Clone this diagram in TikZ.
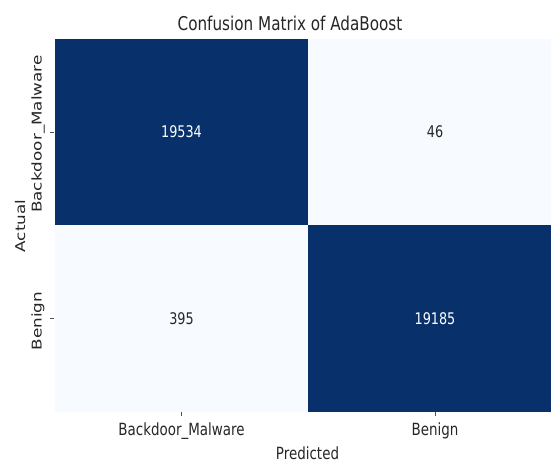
\documentclass[tikz,border=0pt]{standalone}
\usepackage{fontspec}
\setmainfont{DejaVu Sans}
\newfontfamily\narrowfont[FakeStretch=0.8]{DejaVu Sans}
\usetikzlibrary{positioning}

\definecolor{cmdark}{HTML}{08306B}
\definecolor{cmlight}{HTML}{F7FBFF}
\definecolor{txtgray}{HTML}{262626}

\begin{document}
\begin{tikzpicture}[
  x=1pt, y=-1pt,
  cell/.style={rectangle, inner sep=0pt, minimum width=253.5pt, minimum height=186.5pt,
               font=\narrowfont\fontsize{16}{19}\selectfont},
  hicell/.style={cell, fill=cmdark, text=white},
  locell/.style={cell, fill=cmlight, text=txtgray},
  ticklbl/.style={font=\narrowfont\fontsize{16.8}{20}\selectfont, text=txtgray, inner sep=0pt},
  vticklbl/.style={font=\fontsize{16.8}{20}\selectfont, text=txtgray, inner sep=0pt, xscale=0.8, rotate=90},
  tick/.style={line width=0.8pt, txtgray!80}
]
  \clip (0,0) rectangle (551,465);
  \useasboundingbox (0,0) rectangle (551,465);

  % title
  \node[font=\narrowfont\fontsize{19}{23}\selectfont, text=txtgray] (title) at (290,23) {Confusion Matrix of AdaBoost};

  % matrix cells
  \node[hicell] (tp) at (181.5,132) {19534};
  \node[locell] (fn) at (435,132) {46};
  \node[locell] (fp) at (181.5,318.5) {395};
  \node[hicell] (tn) at (435,318.5) {19185};

  % y ticks
  \coordinate (ya) at (54,132);
  \coordinate (yb) at (54,318.5);
  \draw[tick] (ya) -- ++(-4,0);
  \draw[tick] (yb) -- ++(-4,0);
  \node[vticklbl] (ylbla) at (38,134) {Backdoor\_Malware};
  \node[vticklbl] (ylblb) at (38,321) {Benign};
  \node[vticklbl] (ylabel) at (20,226) {Actual};

  % x ticks
  \coordinate (xa) at (181.5,412);
  \coordinate (xb) at (435,412);
  \draw[tick] (xa) -- ++(0,4);
  \draw[tick] (xb) -- ++(0,4);
  \node[ticklbl] (xlbla) at (181.5,431) {Backdoor\_Malware};
  \node[ticklbl] (xlblb) at (435,431) {Benign};
  \node[ticklbl] (xlabel) at (307.5,453) {Predicted};
\end{tikzpicture}
\end{document}
